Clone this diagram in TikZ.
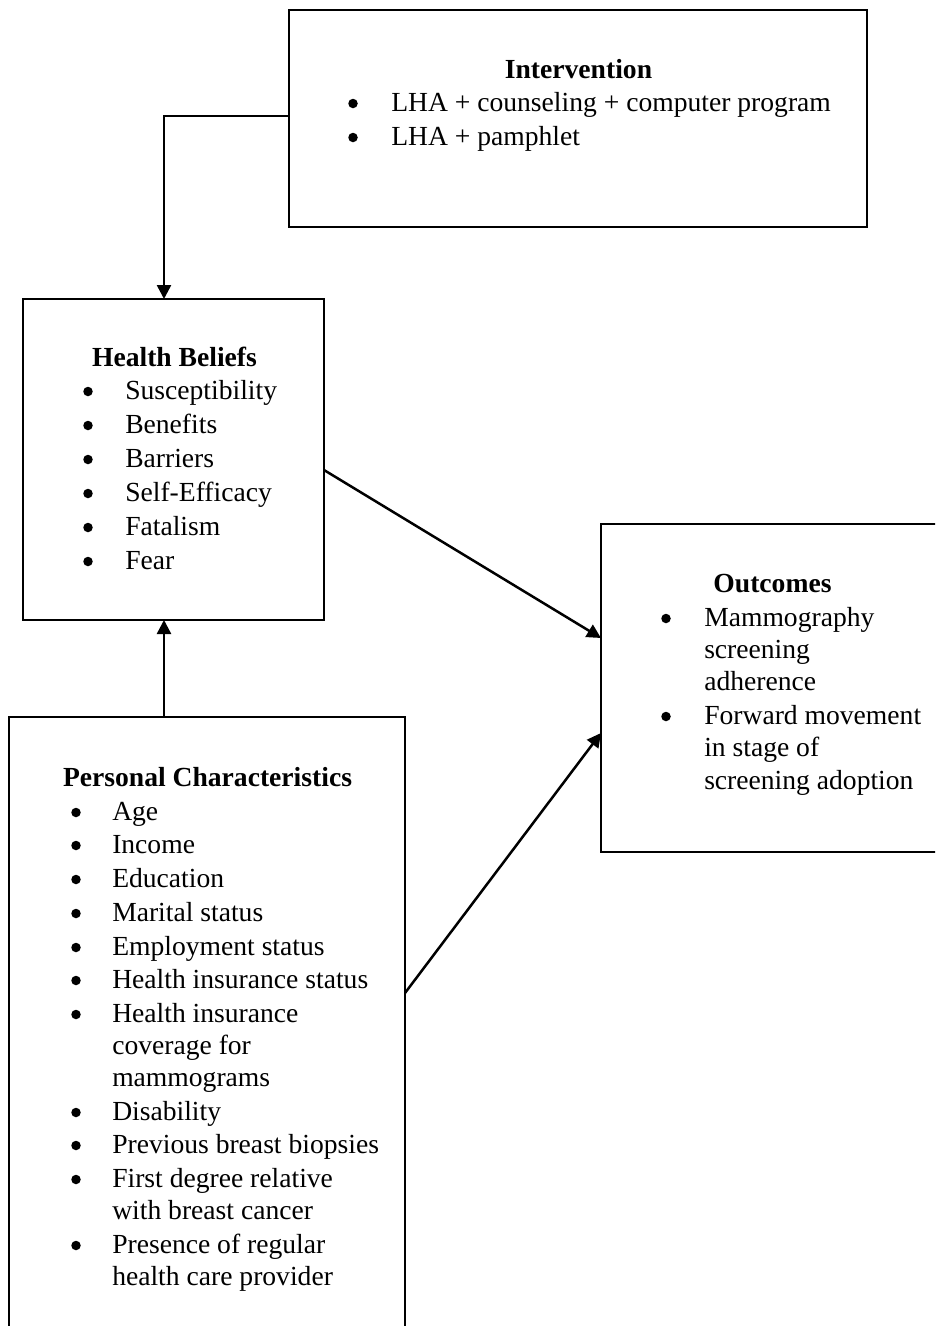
\documentclass[tikz,border=0pt]{standalone}
\usepackage{fontspec}
\setmainfont{Liberation Serif}
\usetikzlibrary{arrows.meta}
\begin{document}
\begin{tikzpicture}[x=1pt,y=-1pt,line width=2.5pt,
  box/.style={draw,rectangle,inner sep=0pt,outer sep=0pt,anchor=north west},
  txt/.style={anchor=base west,inner sep=0pt,font=\fontsize{27.6}{34}\selectfont},
  bul/.style={circle,fill,draw=none,inner sep=0pt,minimum size=9.5pt,yshift=7.5pt},
  ttl/.style={anchor=base,inner sep=0pt,font=\fontsize{27.6}{34}\selectfont\bfseries},
  arr/.style={-{Triangle[length=14pt,width=14pt]},line width=2.5pt}]
\useasboundingbox (0,0) rectangle (935,1326);
\clip (0,0) rectangle (935,1326);
% boxes
\node[box,minimum width=578pt,minimum height=217pt] (interv) at (289,10) {};
\node[box,minimum width=301pt,minimum height=321pt] (hb) at (23,299) {};
\node[box,minimum width=345pt,minimum height=328pt] (out) at (601,524) {};
\node[box,minimum width=396pt,minimum height=640pt] (pc) at (9,717) {};
% Intervention text
\node[ttl] (intT) at (578.5,78) {Intervention};
\node[bul] (intB1) at (353,111) {};
\node[txt] (int1) at (390,111) {LHA + counseling + computer program};
\node[bul] (intB2) at (353,145) {};
\node[txt] (int2) at (390,145) {LHA + pamphlet};
% Health beliefs text
\node[ttl] (hbT) at (174.5,366) {Health Beliefs};
\node[bul] (hbB1) at (88,399) {}; \node[txt] (hb1) at (124,399) {Susceptibility};
\node[bul] (hbB2) at (88,433) {}; \node[txt] (hb2) at (124,433) {Benefits};
\node[bul] (hbB3) at (88,467) {}; \node[txt] (hb3) at (124,467) {Barriers};
\node[bul] (hbB4) at (88,501) {}; \node[txt] (hb4) at (124,501) {Self-Efficacy};
\node[bul] (hbB5) at (88,535) {}; \node[txt] (hb5) at (124,535) {Fatalism};
\node[bul] (hbB6) at (88,569) {}; \node[txt] (hb6) at (124,569) {Fear};
% Outcomes text
\node[ttl] (outT) at (772.5,592) {Outcomes};
\node[bul] (outB1) at (666,626) {}; \node[txt] (out1a) at (703,626) {Mammography};
\node[txt] (out1b) at (703,658) {screening};
\node[txt] (out1c) at (703,690) {adherence};
\node[bul] (outB2) at (666,724) {}; \node[txt] (out2a) at (703,724) {Forward movement};
\node[txt] (out2b) at (703,756) {in stage of};
\node[txt] (out2c) at (703,789) {screening adoption};
% Personal characteristics text
\node[ttl] (pcT) at (207.5,786) {Personal Characteristics};
\node[bul] (pcB1) at (76,820) {}; \node[txt] (pc1) at (111,820) {Age};
\node[bul] (pcB2) at (76,853) {}; \node[txt] (pc2) at (111,853) {Income};
\node[bul] (pcB3) at (76,887) {}; \node[txt] (pc3) at (111,887) {Education};
\node[bul] (pcB4) at (76,921) {}; \node[txt] (pc4) at (111,921) {Marital status};
\node[bul] (pcB5) at (76,955) {}; \node[txt] (pc5) at (111,955) {Employment status};
\node[bul] (pcB6) at (76,988) {}; \node[txt] (pc6) at (111,988) {Health insurance status};
\node[bul] (pcB7) at (76,1022) {}; \node[txt] (pc7a) at (111,1022) {Health insurance};
\node[txt] (pc7b) at (111,1054) {coverage for};
\node[txt] (pc7c) at (111,1086) {mammograms};
\node[bul] (pcB8) at (76,1120) {}; \node[txt] (pc8) at (111,1120) {Disability};
\node[bul] (pcB9) at (76,1153) {}; \node[txt] (pc9) at (111,1153) {Previous breast biopsies};
\node[bul] (pcB10) at (76,1187) {}; \node[txt] (pc10a) at (111,1187) {First degree relative};
\node[txt] (pc10b) at (111,1219) {with breast cancer};
\node[bul] (pcB11) at (76,1253) {}; \node[txt] (pc11a) at (111,1253) {Presence of regular};
\node[txt] (pc11b) at (111,1285) {health care provider};
% connectors
\draw[arr] ([yshift=2.5pt]interv.west) -| ([xshift=141pt]hb.north west);
\draw[arr] ([xshift=155pt]pc.north west) -- ([xshift=141pt]hb.south west);
\draw[arr] ([yshift=-10.5pt]hb.east) -- ([yshift=50pt]out.west);
\draw[arr] ([xshift=396pt,yshift=-276pt]pc.north west) -- ([yshift=-45pt]out.west);
\end{tikzpicture}
\end{document}
